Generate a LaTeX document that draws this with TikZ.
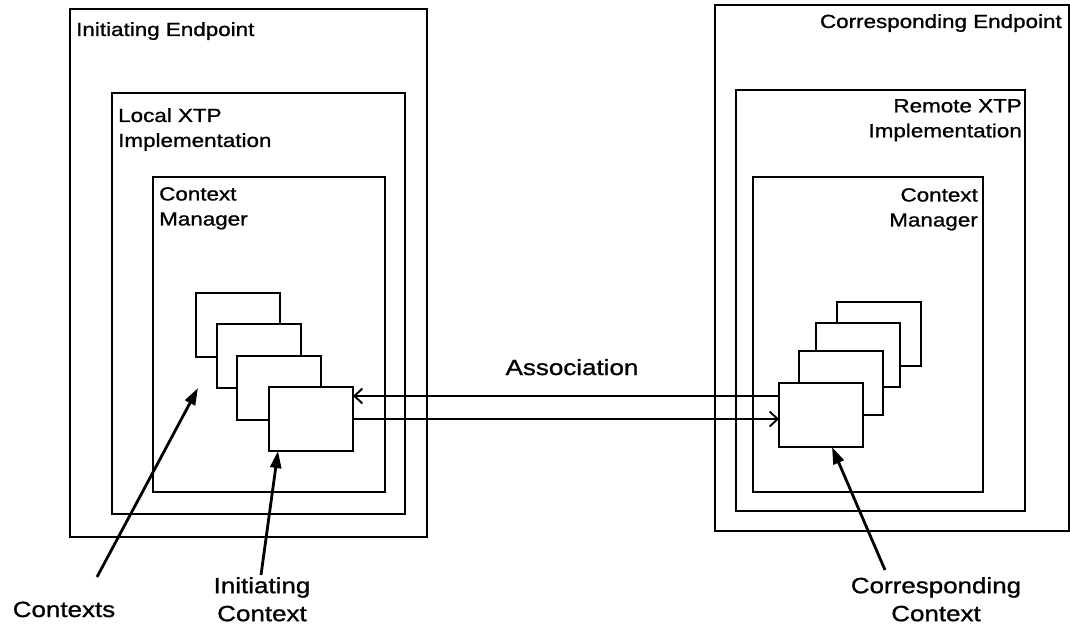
\documentclass[tikz,border=0pt]{standalone}
\usepackage{fontspec}
\setmainfont{Liberation Sans}[FakeStretch=1.18,FakeBold=1]
\usetikzlibrary{arrows.meta,positioning}

\begin{document}
\begin{tikzpicture}[
  x=1pt, y=-1pt,
  frame/.style={draw, line width=1.8pt, inner sep=0pt, outer sep=0pt, anchor=north west},
  ctx/.style={frame, fill=white, minimum width=84pt, minimum height=64pt},
  tag/.style={inner sep=0pt, font=\fontsize{19}{25}\selectfont},
  callout/.style={inner sep=0pt, align=center, font=\fontsize{22}{28}\selectfont},
  assoc/.style={-{Straight Barb[length=8pt,width=15pt]}, line width=1.9pt},
  pointer/.style={-{Triangle[length=17pt,width=11pt]}, line width=2.8pt}
]
\path[use as bounding box, fill=white] (0,0) rectangle (1070,632);

% initiating side
\node[frame, minimum width=357pt, minimum height=528pt] (initep) at (70,9) {};
\node[frame, minimum width=293pt, minimum height=421pt] (localxtp) at (112,93) {};
\node[frame, minimum width=232pt, minimum height=315pt] (lcm) at (153,177) {};
\node[tag, below right=13pt and 6pt of initep.north west] (initeplbl) {Initiating Endpoint};
\node[tag, align=left, below right=15pt and 6pt of localxtp.north west] (localxtplbl) {Local XTP\\Implementation};
\node[tag, align=left, below right=10pt and 6pt of lcm.north west] (lcmlbl) {Context\\Manager};

\node[ctx] (ctxa) at (196,293) {};
\node[ctx] (ctxb) at (217,324) {};
\node[ctx] (ctxc) at (237,356) {};
\node[ctx] (initctx) at (269,387) {};

% corresponding side
\node[frame, minimum width=354pt, minimum height=526pt] (corrept) at (715,5) {};
\node[frame, minimum width=289pt, minimum height=421pt] (remxtp) at (736,90) {};
\node[frame, minimum width=230pt, minimum height=315pt] (rcm) at (753,177) {};
\node[tag, below left=9pt and 7pt of corrept.north east] (correptlbl) {Corresponding Endpoint};
\node[tag, align=right, below left=9pt and 3pt of remxtp.north east] (remxtplbl) {Remote XTP\\Implementation};
\node[tag, align=right, below left=11pt and 5pt of rcm.north east] (rcmlbl) {Context\\Manager};

\node[ctx] (rctxa) at (837,302) {};
\node[ctx] (rctxb) at (816,323) {};
\node[ctx] (rctxc) at (799,351) {};
\node[ctx] (corrctx) at (779,383) {};

% association between the two contexts
\node[callout, anchor=base] (assoclbl) at (572,375) {Association};
\draw[assoc] ([yshift=23pt]initctx.east -| corrctx.west) -- ([yshift=23pt]initctx.east);
\draw[assoc] (initctx.east) -- (initctx.east -| corrctx.west);

% callouts
\node[callout, anchor=base] (ctxslbl) at (64,617) {Contexts};
\node[callout, anchor=north] (initctxlbl) at (262,577) {Initiating\\Context};
\node[callout, anchor=north] (corrctxlbl) at (936,577) {Corresponding\\Context};

\coordinate (ctxstail) at (97,577);
\coordinate (initctxtail) at (261,575);
\coordinate (corrctxtail) at (885,570);
\draw[pointer] (ctxstail) -- ([xshift=-19pt]ctxb.south west);
\draw[pointer] (initctxtail) -- ([xshift=9pt]initctx.south west);
\draw[pointer] (corrctxtail) -- ([xshift=53pt]corrctx.south west);
\end{tikzpicture}
\end{document}
